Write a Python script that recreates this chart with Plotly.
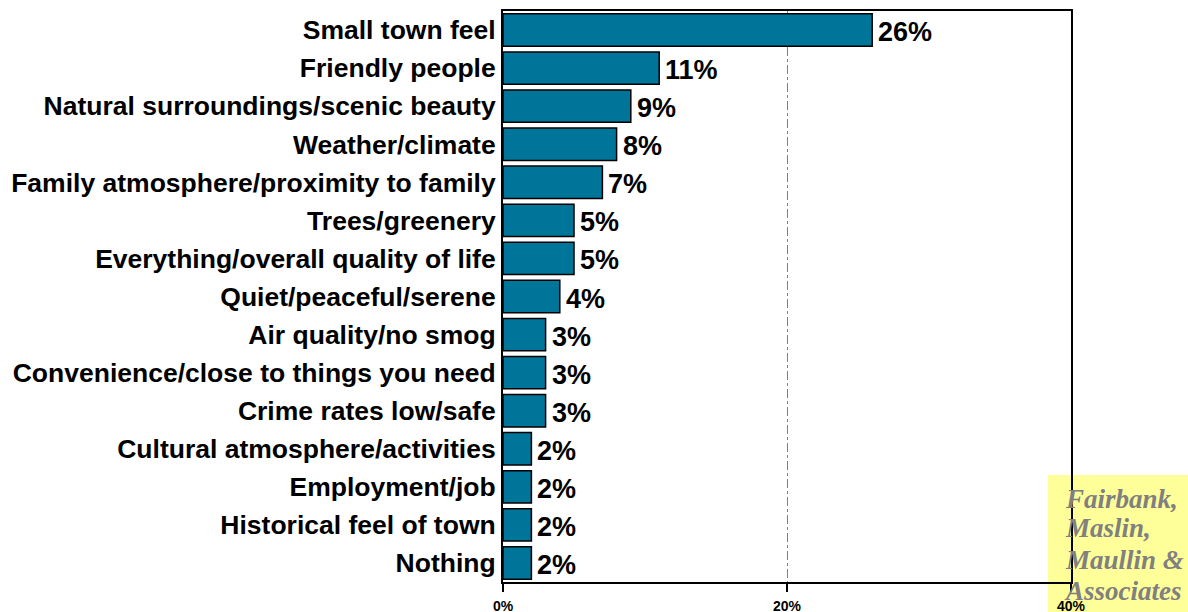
import plotly.graph_objects as go

# Survey responses: what people like most about their town (share of respondents)
categories = [
    "Small town feel",
    "Friendly people",
    "Natural surroundings/scenic beauty",
    "Weather/climate",
    "Family atmosphere/proximity to family",
    "Trees/greenery",
    "Everything/overall quality of life",
    "Quiet/peaceful/serene",
    "Air quality/no smog",
    "Convenience/close to things you need",
    "Crime rates low/safe",
    "Cultural atmosphere/activities",
    "Employment/job",
    "Historical feel of town",
    "Nothing",
]
values = [26, 11, 9, 8, 7, 5, 5, 4, 3, 3, 3, 2, 2, 2, 2]
x_ticks = [0, 20, 40]
x_tick_labels = ["0%", "20%", "40%"]
firm_lines = ["Fairbank,", "Maslin,", "Maullin &", "Associates"]

W, H = 1188, 612
# plot frame in page pixels
FX0, FX1, FY0, FY1 = 503, 1071, 11, 582

fig = go.Figure()
fig.add_trace(go.Bar(
    x=values,
    y=categories,
    orientation="h",
    width=0.85,
    marker=dict(color="#00759A", line=dict(color="#000000", width=1.5)),
    hoverinfo="skip",
))

# Value labels just to the right of each bar end
for cat, v in zip(categories, values):
    fig.add_annotation(
        x=v, y=cat,
        xref="x", yref="y",
        text=f"<b>{v}%</b>",
        xanchor="left", yanchor="middle",
        xshift=4, yshift=-2,
        showarrow=False,
        font=dict(family="Liberation Sans, Arial", size=27, color="#000000"),
    )

# Firm credit: text on a page-sized pixel axis pair
baselines = [510, 539, 571, 602]
fig.add_trace(go.Scatter(
    x=[1066] * len(firm_lines),
    y=[b - 9 for b in baselines],
    xaxis="x2", yaxis="y2",
    mode="text",
    text=firm_lines,
    textposition="middle right",
    textfont=dict(family="Liberation Serif, Times New Roman", size=27,
                  color="#808080", weight="bold", style="italic"),
    cliponaxis=False,
    hoverinfo="skip",
))

fig.update_layout(
    width=W,
    height=H,
    margin=dict(l=0, r=0, t=0, b=0, pad=0),
    paper_bgcolor="#FFFFFF",
    plot_bgcolor="rgba(0,0,0,0)",
    showlegend=False,
    xaxis=dict(
        domain=[FX0 / W, FX1 / W],
        anchor="y",
        range=[0, 40],
        tickvals=x_ticks,
        ticktext=[f"<b>{t}</b>" for t in x_tick_labels],
        tickfont=dict(family="Liberation Sans, Arial", size=14, color="#000000"),
        ticks="outside",
        ticklen=8,
        tickcolor="#000000",
        tickwidth=1.5,
        ticklabelstandoff=2,
        showgrid=True,
        gridcolor="#808080",
        griddash="dashdot",
        gridwidth=1,
        showline=True,
        linecolor="#000000",
        linewidth=2,
        mirror=True,
        zeroline=False,
        automargin=False,
        fixedrange=True,
    ),
    yaxis=dict(
        domain=[(H - FY1) / H, (H - FY0) / H],
        anchor="x",
        categoryorder="array",
        categoryarray=categories[::-1],
        tickmode="array",
        tickvals=categories,
        ticktext=[f"<b>{c}</b>" for c in categories],
        tickfont=dict(family="Liberation Sans, Arial", size=26.5, color="#000000"),
        ticks="",
        ticklabelstandoff=0,
        showgrid=False,
        showline=True,
        linecolor="#000000",
        linewidth=2,
        mirror=True,
        zeroline=False,
        automargin=False,
        fixedrange=True,
    ),
    xaxis2=dict(
        domain=[0, 1], anchor="y2", range=[0, W], visible=False,
        automargin=False, fixedrange=True,
    ),
    yaxis2=dict(
        domain=[0, 1], anchor="x2", range=[H, 0], visible=False,
        automargin=False, fixedrange=True,
    ),
)

# Firm credit box in the lower right corner
fig.add_shape(
    type="rect",
    xref="paper", yref="paper",
    x0=1048 / W, x1=1.0 + 2 / W,
    y0=-2 / H, y1=(H - 475) / H,
    fillcolor="#FFFF99",
    line=dict(width=0),
    layer="below",
)

fig.write_html("out.html")
